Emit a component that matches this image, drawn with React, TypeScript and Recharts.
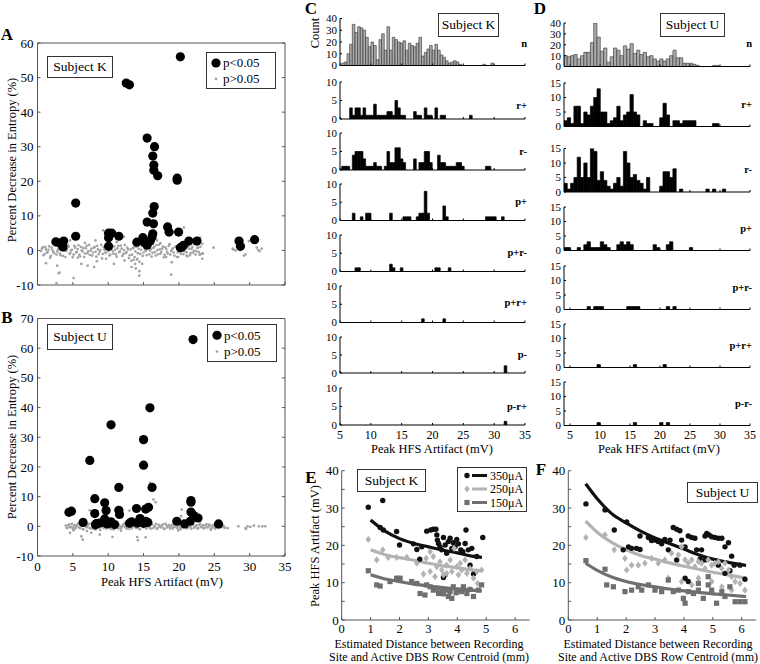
import React from 'react';
import { ScatterChart, Scatter, XAxis, YAxis, BarChart, Bar, ComposedChart, Line, Legend } from 'recharts';

const FONT = '"Liberation Serif", "Times New Roman", Times, serif';
const W = 760;
const H = 664;

// ---------------- Panels A / B ----------------
const AB_X_TICKS = [0, 5, 10, 15, 20, 25, 30, 35];
const A_Y_TICKS = [-10, 0, 10, 20, 30, 40, 50, 60];
const B_Y_TICKS = [-10, 0, 10, 20, 30, 40, 50, 60, 70];
const AB_LEGEND = ['p<0.05', 'p>0.05'];

const A_SIG: [number, number][] = [
  [20.2, 56], [12.55, 48.4], [13.0, 47.9], [15.5, 32.5], [16.55, 30.0], [16.3, 27.3], [16.45, 24.7], [16.45, 23.2],
  [17.0, 21.6], [19.75, 20.9], [19.75, 20.3], [5.4, 13.7], [5.4, 4.1], [16.5, 12.7], [16.3, 10.8], [15.5, 8.2],
  [16.4, 7.7], [18.4, 6.8], [18.6, 5.3], [19.95, 5.3], [2.6, 2.5], [3.2, 2.1], [3.6, 1.0], [3.7, 2.7],
  [10.05, 5.0], [10.5, 5.0], [10.05, 3.7], [10.05, 1.2], [11.5, 4.1], [14.05, 2.4], [14.9, 3.7], [15.15, 2.2],
  [15.5, 1.5], [16.2, 3.9], [16.3, 4.8], [15.95, 2.7], [20.2, 0.8], [20.65, 1.5], [21.4, 2.7], [22.55, 2.7],
  [28.5, 2.7], [28.7, 1.2], [30.7, 3.1], [20.4, 1.0],
];
const A_GRAY_BAND1: [number, number][] = [
  [0.5, -0.2], [0.73, 0.9], [0.96, -1.1], [1.19, 0.3], [1.42, -0.5], [1.65, 1.2], [1.88, -1.6], [2.11, 0.1], [2.34, -0.8], [2.57, 1.4],
  [2.8, -0.3], [3.03, 0.6], [3.26, -1.4], [3.49, 0.9], [3.72, -0.1], [3.95, -1.9], [4.18, 0.4], [4.41, 1.1], [4.64, -0.7], [4.87, 0.2],
  [5.1, -1.2], [5.33, 0.8], [5.56, -0.4], [5.79, 1.5], [6.02, -1.7], [6.25, 0.0], [6.48, 0.7], [6.71, -0.9], [6.94, 1.3], [7.17, -0.2],
  [7.4, -1.3], [7.63, 0.5], [7.86, -0.6], [8.09, 1.0], [8.32, -1.8], [8.55, 0.3], [8.78, -0.4], [9.01, 1.6], [9.24, -1.0], [9.47, 0.2],
  [9.7, -0.7], [9.93, 0.9], [10.16, -1.5], [10.39, 0.4], [10.62, -0.2], [10.85, 1.2], [11.08, -1.1], [11.31, 0.6], [11.54, -0.5], [11.77, 1.4],
  [12.0, -1.6], [12.23, 0.1], [12.46, -0.8], [12.69, 0.8], [12.92, -2.2], [13.15, 0.3], [13.38, -1.2], [13.61, 0.9], [13.84, -0.3], [14.07, -2.6],
  [14.3, 0.5], [14.53, -1.0], [14.76, 1.3], [14.99, -0.6], [15.22, 0.2], [15.45, -1.4], [15.68, 1.0], [15.91, -0.1], [16.14, -1.8], [16.37, 0.7],
  [16.6, -0.5], [16.83, 1.5], [17.06, -1.1], [17.29, 0.3], [17.52, -0.4], [17.75, 1.1], [17.98, -1.3], [18.21, 0.4], [18.44, -0.9], [18.67, 1.8],
  [18.9, -0.2], [19.13, 0.6], [19.36, -1.5], [19.59, 1.2], [19.82, -0.6], [20.05, 0.1], [20.28, -1.0], [20.51, 0.9], [20.74, -0.3], [20.97, 1.4],
  [21.2, -1.7], [21.43, 0.5], [21.66, -0.8], [21.89, 1.0], [22.12, -0.1], [22.35, -1.2], [22.58, 0.7], [22.81, -0.5], [23.04, 1.1], [23.27, -0.9],
];
const A_GRAY_BAND2: [number, number][] = [
  [0.62, 0.5], [0.85, -1.4], [1.08, 1.0], [1.31, -0.7], [1.54, 0.2], [1.77, -2.1], [2.0, 0.8], [2.23, -0.4], [2.46, 1.7], [2.69, -1.2],
  [2.92, 0.3], [3.15, -0.9], [3.38, 1.2], [3.61, -1.6], [3.84, 0.6], [4.07, -0.2], [4.3, 1.5], [4.53, -1.0], [4.76, 0.0], [4.99, -2.0],
  [5.22, 1.3], [5.45, -0.6], [5.68, 0.4], [5.91, -1.3], [6.14, 1.0], [6.37, -0.3], [6.6, -1.9], [6.83, 0.6], [7.06, -0.8], [7.29, 1.6],
  [7.52, -0.1], [7.75, -1.5], [7.98, 0.8], [8.21, -0.4], [8.44, 1.3], [8.67, -1.1], [8.9, 0.1], [9.13, -2.3], [9.36, 0.9], [9.59, -0.6],
  [9.82, 1.7], [10.05, -0.2], [10.28, -1.2], [10.51, 0.7], [10.74, -0.9], [10.97, 0.2], [11.2, -1.8], [11.43, 1.3], [11.66, -0.3], [11.89, 0.5],
  [12.12, -1.0], [12.35, 1.6], [12.58, -0.5], [12.81, 0.3], [13.04, -1.4], [13.27, -3.0], [13.5, 0.6], [13.73, -1.9], [13.96, 1.1], [14.19, -0.8],
  [14.42, -3.3], [14.65, 0.2], [14.88, -1.6], [15.11, 0.8], [15.34, -0.2], [15.57, 1.4], [15.8, -1.1], [16.03, 0.4], [16.26, -0.7], [16.49, 1.0],
  [16.72, -1.5], [16.95, 0.1], [17.18, 1.7], [17.41, -0.9], [17.64, 0.5], [17.87, -2.0], [18.1, 0.9], [18.33, -0.4], [18.56, 1.3], [18.79, -1.2],
  [19.02, 0.2], [19.25, -0.6], [19.48, 1.0], [19.71, -1.9], [19.94, 0.6], [20.17, -0.3], [20.4, 1.5], [20.63, -1.1], [20.86, 0.3], [21.09, -0.5],
  [21.32, 1.2], [21.55, -1.4], [21.78, 0.4], [22.01, -0.7], [22.24, 1.8], [22.47, -0.2], [22.7, 0.8], [22.93, -1.3],
];
const A_GRAY_OUT: [number, number][] = [
  [1.2, -3.7], [2.8, -4.4], [3.0, -6.6], [5.1, -8.0], [2.7, -9.5], [6.2, -3.9], [5.7, -2.1], [7.1, -4.4], [8.0, -4.8], [8.4, -3.1],
  [9.7, -2.4], [10.8, -3.9], [12.3, -2.9], [13.3, -4.8], [13.8, -3.9], [14.1, -2.4], [13.6, -2.7], [14.4, -7.3], [14.4, -6.0], [14.8, -3.9],
  [18.9, -7.0], [19.0, -3.4], [18.2, -1.9], [19.9, -1.9], [21.1, -1.5], [23.0, -1.2], [23.3, -2.4], [24.9, 0.8], [27.6, 0.5], [28.0, 0],
  [29.2, -1.5], [29.4, -1.2], [29.9, 2.7], [31.0, 0.8], [31.4, -0.2], [31.7, 0.5], [20.7, 6.6], [19.2, 5.3], [18.5, 6.3], [9.3, 5.8],
  [12.2, 3.9], [8.2, 2.9], [23.0, 3.7], [23.3, 1.9], [16.9, 2.9], [17.4, 2.1], [4.6, 2.9], [23.4, -0.9], [27.7, 0.3], [28.6, 0.1],
  [31.2, 0.1], [3.1, -6.4], [6.7, 2.2], [11.2, 2.4], [13.9, -5.2],
];

const B_SIG: [number, number][] = [
  [22.0, 62.9], [15.9, 39.9], [10.4, 34.2], [15.0, 29.2], [15.0, 20.6], [7.4, 22.2], [11.5, 13.1], [16.2, 13.1],
  [8.1, 9.3], [9.5, 7.9], [9.7, 5.3], [11.5, 5.4], [11.6, 4.0], [8.1, 4.3], [4.45, 4.7], [4.8, 5.1],
  [6.45, 1.3], [8.3, 0.9], [9.5, 2.5], [9.7, 1.1], [10.4, 1.5], [10.9, 0.6], [13.3, 1.5], [14.0, 6.0],
  [14.5, 2.6], [14.1, 1.1], [15.3, 5.8], [15.7, 6.4], [15.6, 1.3], [15.3, 1.7], [19.7, 1.7], [20.8, 0.8],
  [21.7, 8.7], [21.7, 4.8], [22.1, 3.6], [22.7, 2.8], [21.6, 1.7], [25.6, 0.8], [8.8, 1.1], [21.7, 8.1],
  [13.0, 1.0], [9.9, 0.8], [8.2, 0.5], [15.0, 1.0], [14.6, 1.8],
];
const B_GRAY_BAND1: [number, number][] = [
  [4.0, 0.2], [4.25, -0.5], [4.5, 0.7], [4.75, -0.2], [5.0, -0.8], [5.25, 0.4], [5.5, -0.1], [5.75, 0.9], [6.0, -0.6], [6.25, 0.1],
  [6.5, -1.0], [6.75, 0.5], [7.0, -0.3], [7.25, 0.8], [7.5, -0.7], [7.75, 0.0], [8.0, 0.6], [8.25, -0.9], [8.5, 0.3], [8.75, -0.4],
  [9.0, 1.0], [9.25, -0.2], [9.5, 0.5], [9.75, -0.8], [10.0, 0.1], [10.25, -0.5], [10.5, 0.8], [10.75, -1.1], [11.0, 0.3], [11.25, -0.2],
  [11.5, 0.6], [11.75, -0.7], [12.0, 0.0], [12.25, 0.9], [12.5, -0.4], [12.75, 0.2], [13.0, -0.9], [13.25, 0.5], [13.5, -0.1], [13.75, 0.7],
  [14.0, -0.6], [14.25, 0.3], [14.5, -1.0], [14.75, 0.4], [15.0, -0.3], [15.25, 0.9], [15.5, -0.5], [15.75, 0.1], [16.0, -0.8], [16.25, 0.6],
  [16.5, -0.2], [16.75, 0.8], [17.0, -0.6], [17.25, 0.2], [17.5, -0.4], [17.75, 0.7], [18.0, -0.9], [18.25, 0.3], [18.5, 0.0], [18.75, -0.7],
  [19.0, 0.5], [19.25, -0.3], [19.5, 0.9], [19.75, -0.6], [20.0, 0.2], [20.25, -1.0], [20.5, 0.4], [20.75, -0.2], [21.0, 0.7], [21.25, -0.5],
  [21.5, 0.1], [21.75, -0.8], [22.0, 0.6], [22.25, -0.3], [22.5, 0.3], [22.75, -0.6], [23.0, 0.8], [23.25, -0.1], [23.5, -0.7], [23.75, 0.4],
  [24.0, -0.4], [24.25, 0.6], [24.5, -0.9], [24.75, 0.2], [25.0, -0.3], [25.25, 0.5], [25.5, -0.6], [25.75, 0.1], [26.0, -0.2], [26.25, 0.3], [26.5, -0.5],
];
const B_GRAY_BAND2: [number, number][] = [
  [4.12, -0.6], [4.37, 0.4], [4.62, -0.3], [4.87, 0.8], [5.12, -0.1], [5.37, -0.7], [5.62, 0.5], [5.87, -0.4], [6.12, 0.2], [6.37, -0.9],
  [6.62, 0.6], [6.87, -0.2], [7.12, 0.3], [7.37, -0.6], [7.62, 0.9], [7.87, -0.8], [8.12, 0.1], [8.37, 0.5], [8.62, -0.3], [8.87, -1.2],
  [9.12, 0.4], [9.37, -0.6], [9.62, 0.7], [9.87, -0.1], [10.12, 0.5], [10.37, -0.9], [10.62, 0.2], [10.87, -0.4], [11.12, 0.9], [11.37, -0.7],
  [11.62, 0.1], [11.87, -0.5], [12.12, 0.6], [12.37, -0.2], [12.62, -0.8], [12.87, 0.4], [13.12, 0.0], [13.37, -0.6], [13.62, 0.8], [13.87, -0.3],
  [14.12, 0.3], [14.37, -0.8], [14.62, 0.6], [14.87, -0.1], [15.12, 0.5], [15.37, -0.7], [15.62, 0.3], [15.87, -0.4], [16.12, 0.9], [16.37, -0.6],
  [16.62, 0.0], [16.87, -0.9], [17.12, 0.5], [17.37, -0.2], [17.62, 0.3], [17.87, -0.7], [18.12, 0.8], [18.37, -0.4], [18.62, 0.4], [18.87, -0.1],
  [19.12, -0.8], [19.37, 0.6], [19.62, -0.3], [19.87, 0.2], [20.12, -0.6], [20.37, 0.9], [20.62, -0.4], [20.87, 0.0], [21.12, -0.7], [21.37, 0.4],
  [21.62, -0.2], [21.87, 0.7], [22.12, -0.5], [22.37, 0.1], [22.62, -0.8], [22.87, 0.5], [23.12, -0.3], [23.37, 0.3], [23.62, -0.5], [23.87, 0.7],
  [24.12, -0.2], [24.37, 0.2], [24.62, -0.6], [24.87, 0.4], [25.12, -0.8], [25.37, 0.1], [25.62, 0.3], [25.87, -0.4], [26.12, 0.5], [26.37, -0.3],
];
const B_GRAY_OUT: [number, number][] = [
  [6.2, -3.4], [6.4, -4.5], [7.6, -2.2], [8.8, -2.8], [10.6, -3.6], [14.1, -3.6], [14.2, -4.7], [15.3, -3.7], [4.6, -2.2], [8.2, -1.1],
  [15.9, 14.6], [16.4, 9.0], [16.7, 8.1], [13.0, 5.3], [20.4, 5.6], [20.3, 3.4], [7.4, 5.4], [28.4, 0], [29.4, -0.6], [29.7, 0],
  [30.1, -0.2], [30.6, 0.2], [31.3, 0], [31.8, 0], [32.2, 0], [29.5, -0.9], [26.9, -0.6], [26.3, 0], [7.0, -1.6], [11.8, -1.5],
  [19.9, -1.4], [5.1, -1.3], [24.5, -1.2],
];

// ---------------- Panels C / D (histograms) ----------------
const CD_X_TICKS = [5, 10, 15, 20, 25, 30, 35];
const C_BIN_START = 5.27;
const C_BIN_WIDTH = 0.432;
const C_BIN_COUNT = 69;
const D_BIN_START = 4.0;
const D_BIN_WIDTH = 0.55;
const D_BIN_COUNT = 56;

const C_LABELS = ['n', 'r+', 'r-', 'p+', 'p+r-', 'p+r+', 'p-', 'p-r+'];
const D_LABELS = ['n', 'r+', 'r-', 'p+', 'p+r-', 'p+r+', 'p-r-'];

// counts per bin (dense from bin 0)
const C_N = [2, 3, 10, 18, 35, 28, 33, 32, 30, 24, 16, 20, 17, 5, 22, 27, 13, 33, 13, 24, 22, 20, 19, 21, 13, 19, 17, 16, 19, 24,
  8, 11, 14, 17, 13, 18, 13, 9, 7, 4, 2, 3, 4, 3, 1, 0, 0, 0, 0, 0, 0, 0, 0, 1, 0, 0, 2];
// sparse rows: [bin index, count]
const C_RPLUS: [number, number][] = [[3, 3], [4, 1], [5, 3], [6, 3], [7, 1], [8, 3], [9, 1], [10, 1], [11, 1], [12, 4], [13, 1], [14, 1],
  [15, 1], [16, 1], [17, 2], [18, 2], [19, 1], [20, 5], [21, 3], [22, 1], [23, 1], [27, 2], [28, 1], [29, 1], [31, 3], [32, 1], [33, 1],
  [35, 3], [37, 1], [38, 1], [48, 1]];
const C_RMINUS: [number, number][] = [[0, 1], [1, 1], [2, 1], [4, 4], [5, 5], [6, 5], [7, 5], [8, 3], [9, 1], [10, 1], [11, 1], [12, 2],
  [13, 1], [14, 1], [16, 1], [17, 5], [18, 2], [19, 2], [20, 6], [21, 6], [22, 3], [23, 2], [27, 3], [29, 2], [30, 2], [31, 5], [32, 5],
  [33, 2], [36, 4], [37, 2], [38, 2], [39, 1], [40, 1], [41, 1], [42, 1], [43, 2], [44, 2], [45, 1], [54, 1], [55, 1]];
const C_PPLUS: [number, number][] = [[4, 2], [7, 1], [9, 2], [10, 2], [18, 2], [23, 1], [24, 1], [25, 1], [28, 1], [29, 2], [30, 2],
  [31, 8], [32, 2], [38, 4], [39, 1], [54, 1], [55, 1], [56, 1], [57, 1], [60, 1]];
const C_PPLUS_RMINUS: [number, number][] = [[5, 1], [6, 1], [18, 2], [19, 1], [22, 1], [35, 1], [36, 1], [40, 1]];
const C_PPLUS_RPLUS: [number, number][] = [[30, 1], [38, 1]];
const C_PMINUS: [number, number][] = [[61, 2]];
const C_PMINUS_RPLUS: [number, number][] = [[61, 1]];

const D_N = [10, 9, 10, 11, 7, 10, 13, 13, 22, 40, 27, 14, 17, 4, 9, 17, 15, 10, 19, 16, 21, 12, 15, 11, 13, 9, 10, 7, 5, 7,
  5, 7, 10, 15, 8, 8, 3, 3, 3, 2, 1, 0, 0, 0, 0, 1, 1];
const D_RPLUS: [number, number][] = [[0, 2], [1, 3], [2, 1], [3, 7], [4, 7], [5, 1], [6, 5], [7, 4], [8, 7], [9, 10], [10, 13], [11, 5],
  [12, 5], [13, 1], [14, 2], [15, 3], [16, 7], [17, 2], [18, 4], [19, 5], [20, 11], [21, 5], [22, 4], [24, 2], [25, 1], [26, 1],
  [29, 3], [30, 8], [31, 4], [33, 2], [34, 2], [35, 1], [36, 2], [37, 2], [38, 2], [39, 2], [45, 1], [46, 1]];
const D_RMINUS: [number, number][] = [[0, 3], [1, 1], [2, 3], [3, 5], [4, 12], [5, 5], [6, 10], [7, 5], [8, 16], [9, 14], [10, 4],
  [11, 7], [12, 4], [13, 2], [14, 1], [15, 3], [16, 5], [17, 2], [18, 14], [19, 10], [20, 5], [21, 6], [22, 4], [23, 3], [24, 1],
  [25, 5], [29, 2], [30, 7], [31, 7], [32, 5], [33, 8], [35, 1], [43, 1], [45, 1], [48, 1]];
const D_PPLUS: [number, number][] = [[0, 1], [1, 1], [4, 1], [6, 2], [7, 3], [8, 1], [9, 1], [10, 1], [11, 3], [12, 2], [13, 1],
  [16, 2], [17, 3], [18, 2], [19, 3], [20, 2], [27, 2], [28, 1], [31, 2], [32, 3], [38, 1]];
const D_PPLUS_RMINUS: [number, number][] = [[7, 1], [9, 1], [10, 1], [11, 1], [19, 1], [20, 1], [21, 1], [22, 1], [31, 1], [33, 1]];
const D_PPLUS_RPLUS: [number, number][] = [[10, 1], [21, 1], [30, 1]];
const D_PMINUS_RMINUS: [number, number][] = [[10, 1], [21, 1], [29, 1], [31, 1]];

// ---------------- Panels E / F ----------------
const EF_X_TICKS = [0, 1, 2, 3, 4, 5, 6];
const EF_Y_TICKS = [0, 5, 10, 15, 20, 25, 30, 35, 40];
const CURRENTS = ['350\u03bcA', '250\u03bcA', '150\u03bcA'];

const E_350: [number, number][] = [[0.92, 30.2], [1.42, 32], [1.33, 24.8], [1.44, 24.1], [1.9, 23.7], [2.0, 20.1], [2.48, 20.4], [2.6, 18.9],
  [2.7, 16.3], [2.77, 19.6], [2.94, 23.8], [3.08, 24.1], [3.17, 24.3], [3.26, 24.3], [3.29, 22.8], [3.31, 21.4], [3.35, 20.5], [3.4, 19.6],
  [3.46, 18.8], [3.52, 22.1], [3.58, 20.1], [3.63, 17.9], [3.69, 21], [3.75, 21.9], [3.81, 19.2], [3.86, 20.7], [3.92, 19.6], [3.98, 21.6],
  [4.04, 20.4], [4.12, 18.8], [4.19, 18.3], [4.27, 20.5], [4.3, 24.1], [4.38, 18.8], [4.5, 19.2], [4.44, 14.7], [4.56, 12.3], [3.58, 12.1],
  [3.52, 11.4], [4.88, 22.1], [4.67, 17]];
const E_250: [number, number][] = [[0.92, 21.6], [1.21, 16.1], [1.42, 18.8], [1.61, 16.8], [1.9, 16.8], [2.25, 16.8], [2.6, 15.2], [2.83, 12.3],
  [2.92, 16.5], [3.06, 18.3], [3.17, 17], [3.29, 14.3], [3.4, 15.6], [3.46, 13.4], [3.52, 12.1], [3.63, 14.7], [3.75, 16.1], [3.81, 13],
  [3.89, 19.2], [3.98, 14.3], [4.04, 12.1], [4.1, 15.2], [4.15, 13.4], [4.27, 16.1], [4.33, 12.5], [4.44, 13.8], [4.56, 11.2], [4.67, 13],
  [4.84, 13.4], [3.63, 12.5], [3.23, 11.6], [3.06, 13], [4.7, 9.8]];
const E_150: [number, number][] = [[0.92, 13.2], [1.21, 9.4], [1.33, 9.1], [1.67, 10.3], [1.9, 11.2], [2.02, 11.2], [2.42, 10.3], [2.6, 9.8],
  [2.71, 7.1], [2.88, 6.7], [2.94, 9.4], [3.06, 8.9], [3.17, 8], [3.29, 8.5], [3.35, 7.1], [3.46, 8.2], [3.52, 7], [3.63, 8], [3.69, 6.3],
  [3.75, 7.6], [3.81, 5.8], [3.86, 8.9], [3.96, 7.3], [4.04, 8], [4.15, 7.6], [4.21, 8.9], [4.33, 7.1], [4.44, 8.2], [4.56, 6.3], [4.73, 8],
  [4.84, 9.4]];
const E_FIT_350: [number, number][] = [[1.0, 26.8], [1.5, 23.8], [2.0, 21.8], [2.5, 20.5], [3.0, 19.6], [3.5, 18.7], [4.0, 18], [4.5, 17.1], [4.85, 16.8]];
const E_FIT_250: [number, number][] = [[1.0, 18.8], [1.5, 17.5], [2.0, 16.7], [2.5, 16], [3.0, 15.2], [3.5, 14.5], [4.0, 14], [4.5, 13.4], [4.85, 13.2]];
const E_FIT_150: [number, number][] = [[1.0, 12.1], [1.5, 11], [2.0, 10.3], [2.5, 9.6], [3.0, 9.1], [3.5, 8.7], [4.0, 8.3], [4.5, 8], [4.85, 7.8]];

const F_350: [number, number][] = [[0.61, 31.1], [1.27, 29.5], [1.59, 24.1], [2.02, 26.3], [1.9, 18.8], [2.08, 19.6], [2.19, 19.2], [2.36, 19.2],
  [2.48, 18.9], [2.48, 22.5], [2.77, 22.1], [2.88, 21.3], [3.0, 21.4], [3.11, 21], [3.23, 20.4], [3.34, 21.6], [3.46, 18.8], [3.52, 21.4],
  [3.63, 24.8], [3.75, 24.3], [3.86, 23.9], [3.92, 21.4], [4.04, 19.6], [4.15, 22.5], [4.27, 22.1], [4.38, 21.9], [4.44, 18.8], [4.56, 16.3],
  [4.61, 18.8], [4.73, 22.5], [4.79, 23.2], [4.87, 22.8], [4.96, 22.3], [5.07, 22.1], [5.19, 21.9], [5.31, 21.9], [5.42, 19.6], [5.54, 20.7],
  [5.65, 17.1], [5.74, 14.7], [5.94, 14.7], [6.11, 10.9], [4.04, 11.2], [4.15, 10.3], [5.42, 12.5], [5.59, 13.2], [5.19, 14.7], [4.73, 16.1],
  [3.75, 16.1]];
const F_250: [number, number][] = [[0.61, 22.1], [1.27, 22.8], [1.59, 18.8], [1.96, 16.5], [2.02, 13.4], [2.19, 14.7], [2.42, 14.7], [2.65, 15.2],
  [2.88, 16.5], [3.11, 15.2], [3.34, 16.1], [3.57, 17.9], [3.81, 17.4], [3.92, 19.6], [4.04, 16.1], [4.15, 15.2], [4.27, 16.1], [4.38, 14.3],
  [4.5, 15.6], [4.61, 15.2], [4.73, 13.8], [4.84, 16.1], [4.96, 14.7], [5.07, 15.2], [5.19, 15.6], [5.31, 13.8], [5.42, 15.2], [5.54, 13.4],
  [5.65, 11.6], [5.77, 10.3], [5.94, 9.8], [6.11, 8], [3.46, 11.2], [3.92, 10.3], [4.27, 9.4], [4.96, 10.3], [5.31, 8.9], [5.65, 8],
  [4.5, 11.2]];
const F_150: [number, number][] = [[0.61, 15.9], [1.27, 13.6], [1.33, 9.4], [1.56, 8.9], [1.96, 7.6], [2.19, 8], [2.42, 8.9], [2.54, 8],
  [2.77, 9.4], [3.0, 8], [3.23, 7.6], [3.46, 10.7], [3.63, 7.6], [3.81, 8], [3.98, 5.8], [4.04, 4.5], [4.15, 7.6], [4.33, 7.1], [4.5, 8],
  [4.67, 5.8], [4.84, 9.4], [4.96, 8], [5.13, 4.5], [5.31, 7.6], [5.42, 6.3], [5.59, 8.9], [5.77, 4.9], [5.94, 4.9], [6.11, 4.9],
  [4.84, 11.6], [4.5, 9.8]];
const F_FIT_350: [number, number][] = [[0.6, 36.5], [1, 32.5], [1.5, 28.5], [2, 26], [2.5, 23.8], [3, 22], [3.5, 20.5], [4, 19], [4.5, 17.5], [5, 16.3], [5.5, 15.5], [6.15, 14.6]];
const F_FIT_250: [number, number][] = [[0.6, 26.5], [1, 23.5], [1.5, 20.8], [2, 18.8], [2.5, 17.3], [3, 16.3], [3.5, 15.3], [4, 14.4], [4.5, 13.6], [5, 12.8], [5.5, 12.1], [6.15, 11.2]];
const F_FIT_150: [number, number][] = [[0.6, 15.2], [1, 13.3], [1.5, 11.5], [2, 10.3], [2.5, 9.5], [3, 8.9], [3.5, 8.3], [4, 7.8], [4.5, 7.4], [5, 7], [5.5, 6.7], [6.15, 6.3]];

// ---------------- helpers ----------------
const COL_350 = '#111111';
const COL_250 = '#b3b3b3';
const COL_150 = '#6f6f6f';
const ABS: React.CSSProperties = { position: 'absolute', left: 0, top: 0 };
const toXY = (arr: [number, number][]) => arr.map(([x, y]) => ({ x, y }));

function binTable(start: number, width: number, count: number, pairs: [number, number][]) {
  const m = new Map<number, number>(pairs);
  const rows: { x: number; v: number }[] = [];
  for (let k = 0; k < count; k++) rows.push({ x: start + width * (k + 0.5), v: m.get(k) || 0 });
  return rows;
}
const dense = (arr: number[]) => arr.map((v, k) => [k, v] as [number, number]);

const bigDot = (p: any) => <circle cx={p.cx} cy={p.cy} r={4.6} fill="#000" />;
const grayDot = (p: any) => <circle cx={p.cx} cy={p.cy} r={1.35} fill="#a4a4a4" />;
const smallDot = (p: any) => <circle cx={p.cx} cy={p.cy} r={2.7} fill={COL_350} />;
const diamond = (p: any) => (
  <polygon points={`${p.cx},${p.cy - 3.6} ${p.cx + 2.8},${p.cy} ${p.cx},${p.cy + 3.6} ${p.cx - 2.8},${p.cy}`} fill={COL_250} />
);
const square = (p: any) => <rect x={p.cx - 2.6} y={p.cy - 2.6} width={5.2} height={5.2} fill={COL_150} />;

const tickStyle = (size: number) => ({ fill: '#000', fontSize: size, fontFamily: FONT });
const blank = () => '';

function Txt({ x, y, children, size = 13, bold = false, rotate = 0, align = 'center', lh = 1 }: any) {
  const tx = align === 'right' ? '-100%' : align === 'left' ? '0%' : '-50%';
  return (
    <div
      style={{
        position: 'absolute', left: x, top: y, transform: `translate(${tx},-50%) rotate(${rotate}deg)`,
        fontFamily: FONT, fontSize: size, fontWeight: bold ? 'bold' : 'normal', whiteSpace: 'nowrap', color: '#000',
        lineHeight: lh, textAlign: 'center',
      }}
    >
      {children}
    </div>
  );
}

function Box({ x0, y0, x1, y1, text, size = 13.5 }: any) {
  return (
    <div
      style={{
        position: 'absolute', left: x0, top: y0, width: x1 - x0, height: y1 - y0, boxSizing: 'border-box',
        border: '1px solid #333', background: '#fff', display: 'flex', alignItems: 'center', justifyContent: 'center',
        fontFamily: FONT, fontSize: size, color: '#000',
      }}
    >
      {text}
    </div>
  );
}

// ---------------- panel components ----------------
function EntropyPanel({ T, B, yDomain, yTicks, sig, grays, showX, legendPos }: any) {
  const L = 37.5;
  const R = 285;
  const legendContent = () => (
    <div style={{ width: legendPos.w, height: legendPos.h, border: '1px solid #333', boxSizing: 'border-box', background: '#fff' }}>
      <svg width={legendPos.w - 2} height={legendPos.h - 2}>
        <circle cx={9} cy={legendPos.h * 0.27} r={4.6} fill="#000" />
        <text x={16} y={legendPos.h * 0.27 + 4.5} fontFamily={FONT} fontSize={13}>{AB_LEGEND[0]}</text>
        <circle cx={9} cy={legendPos.h * 0.7} r={1.35} fill="#a4a4a4" />
        <text x={16} y={legendPos.h * 0.7 + 4.5} fontFamily={FONT} fontSize={13}>{AB_LEGEND[1]}</text>
      </svg>
    </div>
  );
  return (
    <div style={ABS}>
      <ScatterChart width={W} height={H} margin={{ left: L - 30, top: T - 1, right: W - R - 1, bottom: H - B - 22 }}>
        <XAxis type="number" dataKey="x" domain={[0, 35]} ticks={AB_X_TICKS} interval={0} allowDataOverflow height={22}
          tickSize={-3} tickMargin={showX ? 9 : 0} tickFormatter={showX ? (v: number) => String(v) : blank}
          stroke="#555" tick={tickStyle(13)} />
        <XAxis xAxisId="top" orientation="top" type="number" domain={[0, 35]} ticks={AB_X_TICKS} interval={0} allowDataOverflow
          height={1} tickSize={-3} tickFormatter={blank} stroke="#555" tick={tickStyle(1)} />
        <YAxis type="number" dataKey="y" domain={yDomain} ticks={yTicks} interval={0} allowDataOverflow width={30}
          tickSize={-3} tickMargin={7} stroke="#555" tick={tickStyle(13)} />
        <YAxis yAxisId="right" orientation="right" type="number" domain={yDomain} ticks={yTicks} interval={0} allowDataOverflow
          width={1} tickSize={-3} tickFormatter={blank} stroke="#555" tick={tickStyle(1)} />
        {grays.map((g: any, i: number) => (
          <Scatter key={i} data={toXY(g)} shape={grayDot} isAnimationActive={false} />
        ))}
        <Scatter data={toXY(sig)} shape={bigDot} isAnimationActive={false} />
        <Legend layout="vertical" align="center" verticalAlign="middle" content={legendContent}
          wrapperStyle={{ left: legendPos.x, top: legendPos.y, width: legendPos.w, height: legendPos.h }} />
      </ScatterChart>
    </div>
  );
}

function HistRow({ L, R, T, B, domain, yMax, yTicks, data, gray, showX, barSize }: any) {
  return (
    <div style={ABS}>
      <BarChart width={W} height={H} data={data} margin={{ left: L - 25, top: T, right: W - R, bottom: H - B - 14 }}
        barCategoryGap={0} barGap={0}>
        <XAxis type="number" dataKey="x" domain={domain} ticks={CD_X_TICKS} interval={0} allowDataOverflow height={14}
          tickSize={-2} tickMargin={showX ? 7 : 0} tickFormatter={showX ? (v: number) => String(v) : blank}
          stroke="#000" tick={tickStyle(12)} />
        <YAxis type="number" domain={[0, yMax]} ticks={yTicks} interval={0} allowDataOverflow width={25}
          tickSize={-2} tickMargin={5} stroke="#000" tick={tickStyle(11)} />
        <Bar dataKey="v" isAnimationActive={false} barSize={barSize}
          fill={gray ? '#a9a9a9' : '#000'} stroke={gray ? '#333' : '#000'} strokeWidth={gray ? 0.6 : 0.7} />
      </BarChart>
    </div>
  );
}

function DistPanel({ L, sets, fits, legend }: any) {
  const R = L + 187.9;
  const T = 470.7;
  const B = 620;
  const shapes = [smallDot, diamond, square];
  const cols = [COL_350, COL_250, COL_150];
  const legendContent = () => (
    <div style={{ width: 70, height: 45, border: '1px solid #333', boxSizing: 'border-box', background: '#fff' }}>
      <svg width={68} height={43}>
        {CURRENTS.map((c, i) => {
          const cy = 7.5 + i * 13.5;
          return (
            <g key={c}>
              {i === 0 && <circle cx={9} cy={cy} r={2.7} fill={COL_350} />}
              {i === 1 && <polygon points={`9,${cy - 3.6} 11.8,${cy} 9,${cy + 3.6} 6.2,${cy}`} fill={COL_250} />}
              {i === 2 && <rect x={6.4} y={cy - 2.6} width={5.2} height={5.2} fill={COL_150} />}
              <line x1={14} y1={cy} x2={29} y2={cy} stroke={cols[i]} strokeWidth={3} />
              <text x={32} y={cy + 4} fontFamily={FONT} fontSize={12}>{c}</text>
            </g>
          );
        })}
      </svg>
    </div>
  );
  return (
    <div style={ABS}>
      <ComposedChart width={W} height={H} margin={{ left: L - 30, top: T, right: W - R, bottom: H - B - 22 }}>
        <XAxis type="number" dataKey="x" domain={[0, 6.5]} ticks={EF_X_TICKS} interval={0} allowDataOverflow height={22}
          tickSize={-3} tickMargin={7} stroke="#555" tick={tickStyle(12.5)} />
        <YAxis type="number" dataKey="y" domain={[0, 40]} ticks={EF_Y_TICKS} interval={0} allowDataOverflow width={30}
          tickSize={-3} tickMargin={6} tickFormatter={(v: number) => (v % 10 === 0 ? String(v) : '')}
          stroke="#555" tick={tickStyle(13)} />
        {sets.map((s: any, i: number) => (
          <Scatter key={'s' + i} data={toXY(s)} shape={shapes[i]} isAnimationActive={false} />
        ))}
        {fits.map((f: any, i: number) => (
          <Line key={'f' + i} data={toXY(f)} dataKey="y" type="monotone" stroke={cols[i]} strokeWidth={3.2}
            dot={false} isAnimationActive={false} />
        ))}
        {legend && (
          <Legend layout="vertical" align="center" verticalAlign="middle" content={legendContent}
            wrapperStyle={{ left: 457, top: 467, width: 70, height: 45 }} />
        )}
      </ComposedChart>
    </div>
  );
}

// ---------------- layout ----------------
const C_GEOM = [[18.5, 65.5], [82, 119], [133, 170], [184, 220.5], [235, 271.5], [286, 322.5], [337, 373], [388, 425]];
const D_GEOM = [[23, 66.5], [83, 126.5], [148.5, 192], [207, 250.5], [266, 309.5], [324, 367.5], [382, 425.5]];
const C_LABEL_Y = [44, 106, 152, 202, 253, 303, 355, 407];
const D_LABEL_Y = [44, 105, 170, 229, 288, 346, 404];

export default function App() {
  const cRows = [dense(C_N), C_RPLUS, C_RMINUS, C_PPLUS, C_PPLUS_RMINUS, C_PPLUS_RPLUS, C_PMINUS, C_PMINUS_RPLUS];
  const dRows = [dense(D_N), D_RPLUS, D_RMINUS, D_PPLUS, D_PPLUS_RMINUS, D_PPLUS_RPLUS, D_PMINUS_RMINUS];
  const cL = 340, cR = 525, dL = 564, dR = 750;
  const cBar = (C_BIN_WIDTH * (cR - cL)) / 30 * 0.995;
  const dBar = (D_BIN_WIDTH * (dR - dL)) / 31 * 0.995;

  return (
    <div style={{ position: 'relative', width: W, height: H, background: '#fff', overflow: 'hidden', fontFamily: FONT }}>
      <style>{'html,body{margin:0;padding:0;background:#fff;}'}</style>

      {/* A */}
      <EntropyPanel T={43} B={285} yDomain={[-10, 60]} yTicks={A_Y_TICKS} sig={A_SIG}
        grays={[A_GRAY_BAND1, A_GRAY_BAND2, A_GRAY_OUT]} showX={false}
        legendPos={{ x: 206, y: 52, w: 70, h: 37 }} />
      {/* B */}
      <EntropyPanel T={318.5} B={556} yDomain={[-10, 70]} yTicks={B_Y_TICKS} sig={B_SIG}
        grays={[B_GRAY_BAND1, B_GRAY_BAND2, B_GRAY_OUT]} showX={true}
        legendPos={{ x: 207, y: 324, w: 70, h: 38 }} />

      {/* C */}
      {cRows.map((pairs, i) => (
        <HistRow key={'c' + i} L={cL} R={cR} T={C_GEOM[i][0]} B={C_GEOM[i][1]} domain={[5, 35]}
          yMax={i === 0 ? 40 : 10} yTicks={i === 0 ? [0, 10, 20, 30, 40] : [0, 5, 10]}
          data={binTable(C_BIN_START, C_BIN_WIDTH, C_BIN_COUNT, pairs)} gray={i === 0}
          showX={i === cRows.length - 1} barSize={cBar} />
      ))}
      {/* D */}
      {dRows.map((pairs, i) => (
        <HistRow key={'d' + i} L={dL} R={dR} T={D_GEOM[i][0]} B={D_GEOM[i][1]} domain={[4, 35]}
          yMax={i === 0 ? 40 : 15} yTicks={i === 0 ? [0, 10, 20, 30, 40] : [0, 5, 10, 15]}
          data={binTable(D_BIN_START, D_BIN_WIDTH, D_BIN_COUNT, pairs)} gray={i === 0}
          showX={i === dRows.length - 1} barSize={dBar} />
      ))}

      {/* E, F */}
      <DistPanel L={341.7} sets={[E_350, E_250, E_150]} fits={[E_FIT_350, E_FIT_250, E_FIT_150]} legend={true} />
      <DistPanel L={568.3} sets={[F_350, F_250, F_150]} fits={[F_FIT_350, F_FIT_250, F_FIT_150]} legend={false} />

      {/* panel letters */}
      <Txt x={7} y={34} size={17} bold>A</Txt>
      <Txt x={7} y={317} size={17} bold>B</Txt>
      <Txt x={311} y={8} size={17} bold>C</Txt>
      <Txt x={540} y={8} size={17} bold>D</Txt>
      <Txt x={311} y={477} size={17} bold>E</Txt>
      <Txt x={541} y={469} size={17} bold>F</Txt>

      {/* axis titles */}
      <Txt x={12} y={160} size={12.5} rotate={-90}>Percent Decrease in Entropy (%)</Txt>
      <Txt x={12} y={437} size={12.5} rotate={-90}>Percent Decrease in Entropy (%)</Txt>
      <Txt x={162} y={582} size={12.5}>Peak HFS Artifact (mV)</Txt>
      <Txt x={315} y={33} size={12.5} rotate={-90}>Count</Txt>
      <Txt x={432} y={449} size={12.5}>Peak HFS Artifact (mV)</Txt>
      <Txt x={659} y={449} size={12.5}>Peak HFS Artifact (mV)</Txt>
      <Txt x={315} y={546} size={12.5} rotate={-90}>Peak HFS Artifact (mV)</Txt>
      <Txt x={429} y={651} size={12} lh={1.05}>Estimated Distance between Recording<br />Site and Active DBS Row Centroid (mm)</Txt>
      <Txt x={658} y={651} size={12} lh={1.05}>Estimated Distance between Recording<br />Site and Active DBS Row Centroid (mm)</Txt>

      {/* row labels */}
      {C_LABELS.map((t, i) => (
        <Txt key={'cl' + i} x={527} y={C_LABEL_Y[i]} size={10.5} bold align="right">{t}</Txt>
      ))}
      {D_LABELS.map((t, i) => (
        <Txt key={'dl' + i} x={752} y={D_LABEL_Y[i]} size={10.5} bold align="right">{t}</Txt>
      ))}

      {/* subject boxes */}
      <Box x0={47} y0={56} x1={113} y1={78} text="Subject K" />
      <Box x0={47} y0={324} x1={113} y1={350} text="Subject U" />
      <Box x0={438} y0={13} x1={499} y1={37} text="Subject K" />
      <Box x0={660} y0={13} x1={725} y1={37} text="Subject U" />
      <Box x0={357} y0={469} x1={426} y1={492} text="Subject K" />
      <Box x0={687} y0={482} x1={758} y1={503} text="Subject U" />
    </div>
  );
}
